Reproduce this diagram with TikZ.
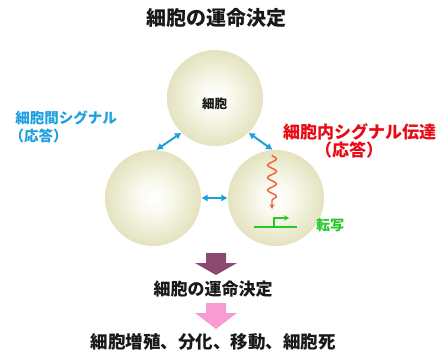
\documentclass[tikz,border=0pt]{standalone}
\usepackage{fontspec}
\newfontfamily\cjk{Noto Sans CJK JP}
\usetikzlibrary{decorations.pathmorphing,arrows.meta,calc}

\definecolor{cellrim}{RGB}{192,188,130}
\definecolor{cellmid}{RGB}{224,222,182}
\definecolor{cellhi}{RGB}{250,250,240}
\definecolor{sigblue}{RGB}{30,160,222}
\definecolor{sigred}{RGB}{232,10,20}
\definecolor{waveorange}{RGB}{240,96,56}
\definecolor{txgreen}{RGB}{40,200,40}
\definecolor{fatepurple}{RGB}{140,74,114}
\definecolor{fatepink}{RGB}{247,156,210}
\definecolor{inktext}{RGB}{25,25,25}

\pgfdeclareradialshading{cellball}{\pgfpoint{0bp}{0bp}}{%
  color(0bp)=(white); color(8bp)=(cellhi); color(28bp)=(cellmid);
  color(44bp)=(cellrim!85!cellmid); color(50bp)=(cellrim)}

\tikzset{
  cell/.style={circle, minimum size=96pt, inner sep=0pt, shading=cellball},
  jp/.style={font=\cjk\bfseries, inner sep=0pt},
  link/.style={sigblue, line width=2pt, {Latex[length=6.5pt,width=7.5pt]}-{Latex[length=6.5pt,width=7.5pt]}},
  wave/.style={waveorange, line width=1.4pt, -{Stealth[length=5pt,width=5pt]},
    decorate, decoration={snake, amplitude=4.5pt, segment length=12.5pt, post length=6pt}},
  gene/.style={txgreen, line width=1.8pt}
}

\begin{document}
\begin{tikzpicture}[x=1pt,y=-1pt]
\useasboundingbox (0,0) rectangle (438,350);

% title
\node[jp, text=inktext, font=\cjk\bfseries\fontsize{20}{24}\selectfont] (title) at (216,18) {細胞の運命決定};

% three cells
\node[cell] (top) at (215,98) {};
\node[cell] (left) at (153,198) {};
\node[cell] (right) at (276,198) {};
\node[jp, text=inktext, font=\cjk\bfseries\fontsize{12.5}{14}\selectfont] (toplabel) at (214.5,103.5) {細胞};

% signalling between cells
\draw[link] (top.226) -- (left.86);
\draw[link] (top.314) -- (right.94);
\draw[link] (left.0) -- (right.180);

% signal inside the right cell
\coordinate (wavestart) at (272,155);
\coordinate (waveend) at (272,209);
\draw[wave] (wavestart) -- (waveend);

% gene with promoter arrow
\coordinate (geneL) at (254,227);
\coordinate (geneR) at (297,227);
\coordinate (tss) at (274,227);
\coordinate (tsshead) at (289,218);
\draw[gene] (geneL) -- (geneR);
\draw[gene, line width=1.5pt, -{Stealth[length=5pt,width=5.5pt]}] (tss) |- (tsshead);
\node[jp, text=txgreen, font=\cjk\bfseries\fontsize{14}{16}\selectfont, anchor=west] (txlabel) at (316,225) {転写};

% labels
\node[jp, text=sigblue, font=\cjk\bfseries\fontsize{14.5}{17}\selectfont] (interA) at (66,118) {細胞間シグナル};
\node[jp, text=sigblue, font=\cjk\bfseries\fontsize{14.5}{17}\selectfont] (interB) at (38.5,135.5) {（応答）};
\node[jp, text=sigred, font=\cjk\bfseries\fontsize{17}{20}\selectfont] (intraA) at (359.5,131.5) {細胞内シグナル伝達};
\node[jp, text=sigred, font=\cjk\bfseries\fontsize{17}{20}\selectfont] (intraB) at (349,150) {（応答）};

% block arrows and outcomes
\fill[fatepurple] (206,253) -- (226,253) -- (226,263) -- (237,263) -- (216,275) -- (195,263) -- (206,263) -- cycle;
\node[jp, text=inktext, font=\cjk\bfseries\fontsize{17}{20}\selectfont] (fate) at (213,289) {細胞の運命決定};
\fill[fatepink] (206,303) -- (226,303) -- (226,313) -- (237,313) -- (216,329) -- (195,313) -- (206,313) -- cycle;
\node[jp, text=inktext, font=\cjk\bfseries\fontsize{17.5}{20}\selectfont] (outcome) at (213,342) {細胞増殖、分化、移動、細胞死};
\end{tikzpicture}
\end{document}
